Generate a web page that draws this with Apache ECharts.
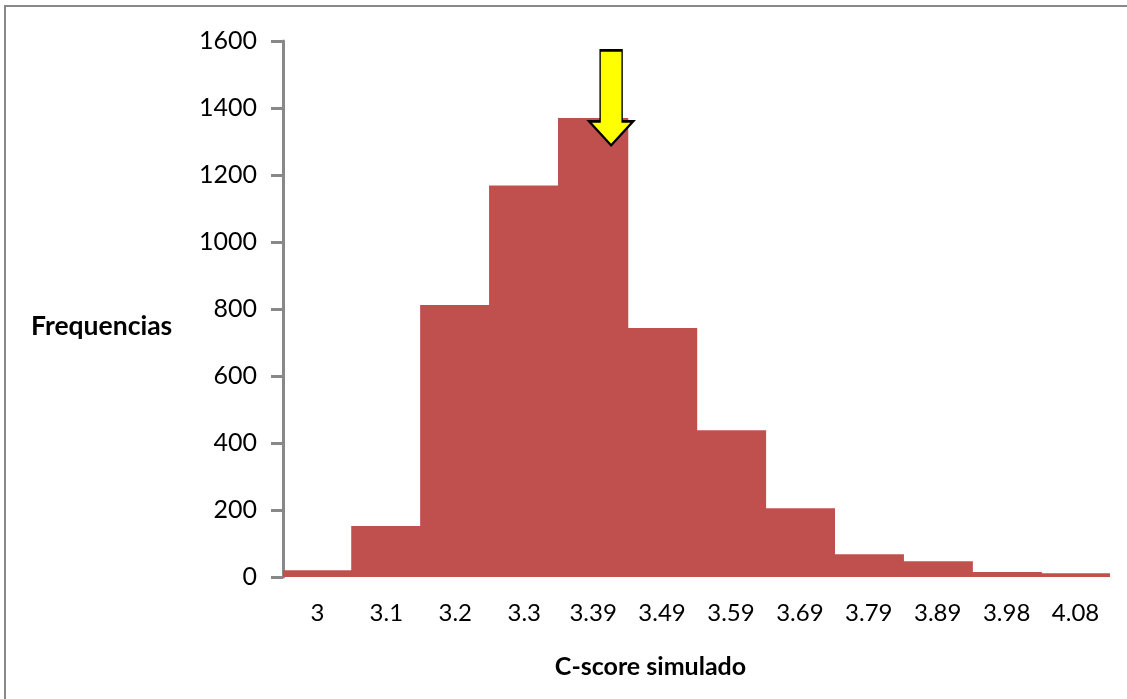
<!DOCTYPE html>
<html>
<head>
    <meta charset="UTF-8">
    <title>C-score simulado</title>
    <script src="https://cdn.jsdelivr.net/npm/echarts@6/dist/echarts.min.js"></script>
    <style>
        body { margin: 0; background: #fff; }
        #hist { width: 1127px; height: 699px; }
    </style>
</head>
<body>
    <div id="hist"></div>
    <script>
        // bins of the simulated C-score and how many runs fell in each
        var bins = ['3', '3.1', '3.2', '3.3', '3.39', '3.49', '3.59', '3.69', '3.79', '3.89', '3.98', '4.08'];
        var freq = [20, 152, 812, 1169, 1370, 743, 438, 205, 68, 47, 15, 11];
        // observed value, marked with the yellow arrow
        var observedBin = '3.39';
        var observedLevel = 1290;

        var chart = echarts.init(document.getElementById('hist'), null, {renderer: 'canvas'});

        var font = 'Lato, "Open Sans", sans-serif';

        chart.setOption({
            animation: false,
            // y axis title sits a bit below the middle of the axis
            title: {
                text: 'Frequencias',
                left: 31,
                top: 313,
                padding: 0,
                textStyle: {fontFamily: font, fontWeight: 'bold', fontSize: 26.5, color: '#000'}
            },
            graphic: [{
                type: 'rect',
                shape: {x: 5, y: 6, width: 1140, height: 710},
                style: {fill: 'none', stroke: '#888', lineWidth: 2},
                silent: true
            }],
            grid: {left: 283, top: 41, right: 17, bottom: 122},
            xAxis: {
                type: 'category',
                data: bins,
                name: 'C-score simulado',
                nameLocation: 'middle',
                nameGap: 77,
                nameTextStyle: {fontFamily: font, fontWeight: 'bold', fontSize: 25, color: '#000', padding: [0, 92, 0, 0]},
                axisLine: {show: false},
                axisTick: {show: false},
                axisLabel: {fontFamily: font, fontSize: 24, color: '#000', margin: 24}
            },
            yAxis: {
                type: 'value',
                min: 0,
                max: 1600,
                interval: 200,
                axisLine: {show: true, lineStyle: {color: '#888', width: 3}},
                axisTick: {show: true, length: 12, lineStyle: {color: '#888', width: 3}},
                splitLine: {show: false},
                axisLabel: {fontFamily: font, fontSize: 25, color: '#000', margin: 26, formatter: function (v) { return String(v); }}
            },
            series: [{
                type: 'bar',
                data: freq,
                barCategoryGap: 0,
                barWidth: '102%',
                itemStyle: {color: '#C0504D'},
                markPoint: {
                    silent: true,
                    symbol: 'path://M11,0 L33,0 L33,71 L44,71 L22,95 L0,71 L11,71 Z',
                    symbolSize: [44, 95],
                    symbolKeepAspect: false,
                    symbolOffset: [18, -47],
                    itemStyle: {color: '#FFFF00', borderColor: '#000', borderWidth: 2},
                    label: {show: false},
                    data: [{coord: [observedBin, observedLevel]}]
                }
            }]
        });
    </script>
</body>
</html>
